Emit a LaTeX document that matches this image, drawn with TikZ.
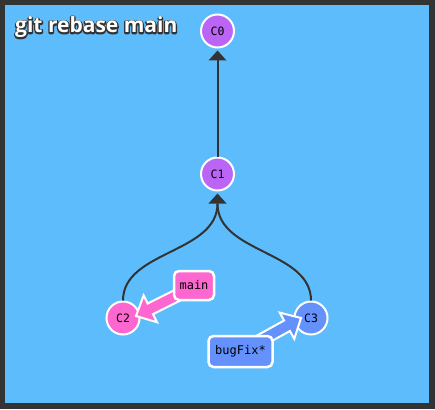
\documentclass[tikz,border=0pt]{standalone}
\usepackage{fontspec}
\setmainfont{Open Sans}
\newfontfamily\monof{DejaVu Sans Mono}
\usetikzlibrary{calc}
\definecolor{bgblue}{HTML}{5DBCFC}
\definecolor{frame}{HTML}{333333}
\definecolor{cpurple}{HTML}{BA65F5}
\definecolor{cpink}{HTML}{FD67CF}
\definecolor{cblue}{HTML}{6591FC}
\definecolor{edge}{HTML}{333333}
\tikzset{
  commit/.style={circle, minimum size=33pt, inner sep=0pt, draw=white, line width=2pt, font=\monof\fontsize{11.5}{11.5}\selectfont},
  branchbox/.style={rectangle, rounded corners=5pt, draw=white, line width=2.5pt, inner sep=0pt, font=\monof\fontsize{12}{12}\selectfont},
  link/.style={draw=edge, line width=2pt},
  headtip/.style={fill=edge, draw=none},
  fatarrow/.style={draw=white, line width=2pt, line join=miter},
  titletext/.style={anchor=base west, inner sep=0pt, font=\fontsize{21}{21}\selectfont\bfseries}
}
\newcommand{\fatarr}[3]{%
  \coordinate (fb) at ($(#2)!16pt!(#1)$);
  \filldraw[fatarrow, fill=#3]
    ($(#1)!6pt!90:(#2)$) -- ($(fb)!6pt!90:(#2)$) -- ($(fb)!15pt!90:(#2)$) -- (#2)
    -- ($(fb)!15pt!-90:(#2)$) -- ($(fb)!6pt!-90:(#2)$) -- ($(#1)!6pt!-90:(#2)$) -- cycle;
}
\newcommand{\outlined}[1]{\special{pdf:literal direct 1 Tr 2.6 w 1 J 1 j 0.2 0.2 0.2 RG}#1\special{pdf:literal direct 0 Tr}}
\begin{document}
\begin{tikzpicture}[x=1pt,y=-1pt]
\useasboundingbox (0,0) rectangle (435,409);
\fill[frame] (0,0) rectangle (435,409);
\fill[bgblue] (5,5) rectangle (429,403);
% title
\coordinate (tt) at (15,33);
\node[titletext, text=frame] (titleline) at (tt) {\outlined{git rebase main}};
\node[titletext, text=white] (title) at (tt) {git rebase main};
% commits
\node[commit, fill=cpurple] (c0) at (217.5,31) {C0};
\node[commit, fill=cpurple] (c1) at (217.5,174) {C1};
\node[commit, fill=cpink] (c2) at (123,318) {C2};
\node[commit, fill=cblue] (c3) at (311,318) {C3};
% edges
\coordinate (t0) at ($(c0.south)+(0,2)$);
\coordinate (b0) at ($(t0)+(0,10)$);
\draw[link] (c1.north) -- (b0);
\fill[headtip] (t0) -- ($(b0)+(-9,0)$) -- ($(b0)+(9,0)$) -- cycle;
\coordinate (t1) at ($(c1.south)+(0,2)$);
\coordinate (b1) at ($(t1)+(0,10)$);
\draw[link] (c2.north) .. controls ($(c2.north)+(0,-50)$) and ($(b1)+(0,50)$) .. (b1);
\draw[link] (c3.north) .. controls ($(c3.north)+(0,-50)$) and ($(b1)+(0,50)$) .. (b1);
\fill[headtip] (t1) -- ($(b1)+(-9,0)$) -- ($(b1)+(9,0)$) -- cycle;
% branch labels
\coordinate (ms) at (190,289);
\coordinate (mt) at (136,316);
\fatarr{ms}{mt}{cpink}
\node[branchbox, fill=cpink, minimum width=40pt, minimum height=29pt] (main) at (194,285.5) {main};
\coordinate (bs) at (245,349);
\coordinate (bt) at (301,318);
\fatarr{bs}{bt}{cblue}
\node[branchbox, fill=cblue, minimum width=64pt, minimum height=31pt] (bugfix) at (240.5,351.5) {bugFix*};
\end{tikzpicture}
\end{document}
